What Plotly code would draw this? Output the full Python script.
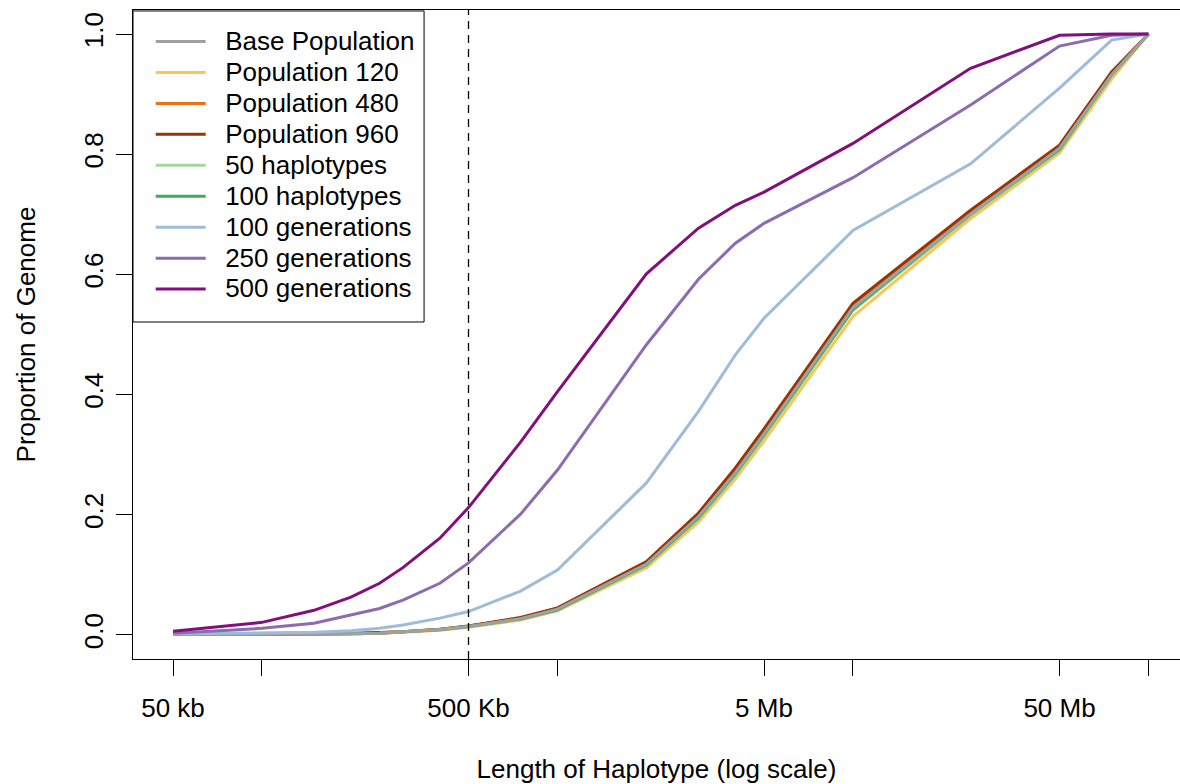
import plotly.graph_objects as go

# Haplotype lengths (bp)
lengths = [5e4, 1e5, 1.5e5, 2e5, 2.5e5, 3e5, 4e5, 5e5, 7.5e5, 1e6, 2e6, 3e6, 4e6, 5e6,
           1e7, 2.5e7, 5e7, 7.5e7, 1e8]

base_population = [0.001, 0.001, 0.0015, 0.002, 0.003, 0.005, 0.009, 0.014, 0.027, 0.043,
                   0.118, 0.197, 0.270, 0.335, 0.545, 0.700, 0.810, 0.932, 1.0]
population_120 = [0.001, 0.001, 0.0013, 0.0018, 0.0027, 0.0045, 0.008, 0.013, 0.025, 0.040,
                  0.112, 0.188, 0.260, 0.323, 0.530, 0.693, 0.802, 0.925, 1.0]
population_480 = [0.001, 0.001, 0.0015, 0.0024, 0.0034, 0.0053, 0.0093, 0.0148, 0.0285, 0.0445,
                  0.120, 0.200, 0.275, 0.340, 0.549, 0.704, 0.813, 0.935, 1.0]
population_960 = [0.001, 0.001, 0.0015, 0.0025, 0.0035, 0.0055, 0.0095, 0.015, 0.029, 0.045,
                  0.122, 0.203, 0.278, 0.343, 0.552, 0.707, 0.815, 0.937, 1.0]
haplotypes_50 = [0.001, 0.001, 0.0014, 0.002, 0.003, 0.0048, 0.0085, 0.0135, 0.026, 0.041,
                 0.115, 0.193, 0.265, 0.330, 0.540, 0.698, 0.806, 0.930, 1.0]
haplotypes_100 = [0.001, 0.001, 0.0015, 0.002, 0.003, 0.005, 0.0088, 0.014, 0.0265, 0.042,
                  0.117, 0.195, 0.268, 0.333, 0.542, 0.700, 0.808, 0.932, 1.0]
generations_100 = [0.002, 0.003, 0.0045, 0.007, 0.011, 0.0166, 0.028, 0.039, 0.073, 0.108,
                   0.253, 0.372, 0.466, 0.527, 0.673, 0.784, 0.910, 0.990, 1.0]
generations_250 = [0.003, 0.011, 0.0195, 0.033, 0.044, 0.058, 0.086, 0.120, 0.201, 0.2745,
                   0.483, 0.592, 0.652, 0.685, 0.761, 0.882, 0.980, 0.998, 1.0]
generations_500 = [0.006, 0.021, 0.041, 0.063, 0.086, 0.112, 0.161, 0.212, 0.321, 0.405,
                   0.601, 0.677, 0.715, 0.737, 0.818, 0.943, 0.998, 1.0, 1.0]

series_names = ["Base Population", "Population 120", "Population 480", "Population 960",
                "50 haplotypes", "100 haplotypes", "100 generations", "250 generations",
                "500 generations"]
series_values = [base_population, population_120, population_480, population_960,
                 haplotypes_50, haplotypes_100, generations_100, generations_250,
                 generations_500]
series_colors = ["#A0A0A0", "#FEC44F", "#EC7014", "#993404", "#A1D99B", "#41AB5D",
                 "#9EBCDA", "#8C6BB1", "#810F7C"]

tick_vals = [5e4, 1e5, 5e5, 1e6, 5e6, 1e7, 5e7, 1e8]
tick_text = ["50 kb", "", "500 Kb", "", "5 Mb", "", "50 Mb", ""]
y_tick_vals = [0.0, 0.2, 0.4, 0.6, 0.8, 1.0]
y_tick_text = ["0.0", "0.2", "0.4", "0.6", "0.8", "1.0"]

FONT = "Liberation Sans, Arial, Helvetica, sans-serif"
FS = 26

fig = go.Figure()
draw_order = [1, 2, 3, 4, 5, 0, 6, 7, 8]
for i in draw_order:
    fig.add_trace(go.Scatter(
        x=lengths, y=series_values[i], mode="lines",
        name='<span style="font-size:%dpx">&nbsp;&nbsp;%s</span>' % (FS, series_names[i]),
        line=dict(color=series_colors[i], width=3),
        legendrank=i + 1,
    ))

fig.add_vline(x=5e5, line=dict(color="black", width=1.3, dash="8px,6px"))

# legend frame
fig.add_shape(type="rect", xref="paper", yref="paper",
              x0=0, x1=0.278, y0=0.5193, y1=0.9985,
              line=dict(color="black", width=1), fillcolor="rgba(0,0,0,0)",
              layer="above")

fig.update_layout(
    width=1180, height=784,
    margin=dict(l=133, r=0, t=10, b=125, autoexpand=False),
    paper_bgcolor="white", plot_bgcolor="white",
    font=dict(family=FONT, size=FS, color="black"),
    showlegend=True,
    legend=dict(
        x=0.0169, y=0.983, xanchor="left", yanchor="top",
        borderwidth=0, bgcolor="rgba(0,0,0,0)",
        font=dict(family=FONT, size=21.5, color="black"),
        itemwidth=50,
        traceorder="normal",
    ),
    xaxis=dict(
        type="log", range=[4.56361, 8.10675],
        tickvals=tick_vals, ticktext=tick_text,
        ticks="outside", ticklen=16, tickwidth=1, tickcolor="black",
        showline=True, linecolor="black", linewidth=1, mirror=True,
        showgrid=False, zeroline=False, automargin=False,
        ticklabelstandoff=10,
        title=dict(text="Length of Haplotype (log scale)", standoff=48,
                   font=dict(size=FS)),
    ),
    yaxis=dict(
        range=[-0.04, 1.04],
        tickvals=y_tick_vals, ticktext=y_tick_text, tickangle=-90,
        ticks="outside", ticklen=16, tickwidth=1, tickcolor="black",
        showline=True, linecolor="black", linewidth=1,
        showgrid=False, zeroline=False, automargin=False,
        ticklabelstandoff=3,
        title=dict(text="Proportion of Genome", standoff=35, font=dict(size=FS)),
    ),
)

fig.write_html("out.html")
